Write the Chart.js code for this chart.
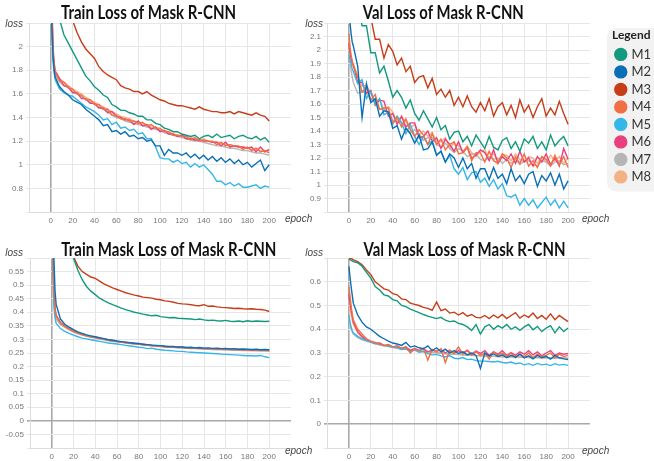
<!DOCTYPE html>
<html><head><meta charset="utf-8">
<script src="https://cdn.jsdelivr.net/npm/chart.js@4/dist/chart.umd.min.js"></script>
<style>
html,body{margin:0;padding:0;background:#fff;width:654px;height:461px;overflow:hidden;position:relative}
.p{position:absolute}
</style></head><body>
<div class="p" style="left:0;top:0;width:330px;height:230px"><canvas id="cTL"></canvas></div>
<div class="p" style="left:300px;top:0;width:380px;height:230px"><canvas id="cTR"></canvas></div>
<div class="p" style="left:0;top:230px;width:330px;height:231px"><canvas id="cBL"></canvas></div>
<div class="p" style="left:300px;top:230px;width:354px;height:231px"><canvas id="cBR"></canvas></div>
<script>
// ---------- data ----------
const epochs = [0,1,2,3, 4,8,12,16,20,24,28,32,36,40, 44,48,52,56,60,64,68,72,76,80, 84,88,92,96,100,104,108,112,116,120, 124,128,132,136,140,144,148,152,156,160, 164,168,172,176,180,184,188,192,196,200];
const seriesNames = ['M1','M2','M3','M4','M5','M6','M7','M8'];
const seriesColors = ['#12997e','#0a6fb5','#c63d18','#f26f43','#35b6e9','#e8407c','#b5b5b5','#f3b286'];

// Train Loss of Mask R-CNN
const trainLossM1 = [4.2,3.8,3.4,3.1, 2.85,2.23,2.10,2.03,1.96,1.89,1.82,1.75,1.71,1.66, 1.63,1.59,1.57,1.51,1.49,1.46,1.46,1.44,1.43,1.41, 1.41,1.38,1.38,1.35,1.34,1.31,1.30,1.28,1.28,1.26, 1.25,1.24,1.25,1.22,1.24,1.25,1.23,1.26,1.23,1.24, 1.25,1.22,1.24,1.25,1.23,1.22,1.24,1.21,1.23,1.19];
const trainLossM2 = [2.6,2.15,1.92,1.80, 1.74,1.66,1.62,1.59,1.55,1.53,1.51,1.47,1.44,1.41, 1.38,1.33,1.34,1.28,1.29,1.26,1.28,1.24,1.25,1.22, 1.23,1.20,1.21,1.16,1.16,1.08,1.13,1.10,1.10,1.08, 1.10,1.06,1.09,1.05,1.08,1.04,1.07,1.03,1.06,1.02, 1.05,1.01,1.04,1.00,1.02,0.98,1.01,1.04,0.95,1.00];
const trainLossM3 = [5.0,4.6,4.2,3.9, 3.6,3.0,2.65,2.38,2.22,2.12,2.04,1.98,1.94,1.90, 1.83,1.79,1.76,1.74,1.72,1.67,1.65,1.64,1.62,1.62, 1.60,1.62,1.59,1.57,1.55,1.54,1.52,1.51,1.50,1.50, 1.49,1.48,1.47,1.49,1.47,1.46,1.45,1.45,1.44,1.44, 1.45,1.43,1.45,1.44,1.43,1.42,1.44,1.42,1.41,1.37];
const trainLossM4 = [2.9,2.3,1.96,1.84, 1.78,1.71,1.70,1.65,1.64,1.60,1.59,1.55,1.55,1.51, 1.51,1.47,1.47,1.42,1.42,1.39,1.39,1.37,1.37,1.35, 1.36,1.33,1.34,1.31,1.31,1.28,1.28,1.25,1.25,1.24, 1.24,1.21,1.23,1.20,1.21,1.20,1.20,1.17,1.19,1.16, 1.17,1.16,1.16,1.13,1.15,1.12,1.14,1.11,1.12,1.10];
const trainLossM5 = [2.5,2.10,1.88,1.78, 1.72,1.64,1.61,1.59,1.58,1.55,1.52,1.49,1.47,1.45, 1.42,1.38,1.39,1.34,1.36,1.31,1.32,1.29,1.30,1.26, 1.27,1.22,1.22,1.15,1.06,1.05,1.05,1.02,1.04,1.01, 1.02,0.98,1.01,0.98,1.00,0.96,0.92,0.86,0.86,0.83, 0.85,0.82,0.84,0.81,0.81,0.82,0.83,0.80,0.82,0.81];
const trainLossM6 = [3.0,2.35,1.98,1.86, 1.79,1.73,1.67,1.66,1.61,1.61,1.56,1.56,1.52,1.52, 1.48,1.48,1.44,1.45,1.41,1.40,1.38,1.38,1.34,1.37, 1.33,1.34,1.30,1.32,1.28,1.29,1.26,1.26,1.24,1.25, 1.22,1.22,1.21,1.21,1.20,1.20,1.19,1.19,1.16,1.19, 1.15,1.16,1.15,1.15,1.14,1.15,1.11,1.15,1.11,1.13];
const trainLossM7 = [2.8,2.25,1.93,1.82, 1.76,1.70,1.67,1.65,1.62,1.60,1.58,1.55,1.53,1.51, 1.49,1.47,1.45,1.42,1.40,1.39,1.37,1.36,1.35,1.34, 1.33,1.32,1.31,1.30,1.29,1.27,1.26,1.25,1.24,1.23, 1.22,1.21,1.20,1.20,1.19,1.18,1.17,1.16,1.16,1.15, 1.14,1.14,1.13,1.12,1.12,1.11,1.10,1.10,1.09,1.08];
const trainLossM8 = [3.1,2.4,2.0,1.87, 1.80,1.73,1.70,1.67,1.64,1.62,1.60,1.57,1.55,1.53, 1.51,1.49,1.47,1.45,1.43,1.41,1.40,1.39,1.37,1.36, 1.35,1.34,1.32,1.31,1.30,1.29,1.28,1.26,1.25,1.25, 1.24,1.23,1.22,1.21,1.22,1.20,1.19,1.19,1.18,1.17, 1.17,1.16,1.15,1.15,1.14,1.13,1.13,1.12,1.11,1.12];

// Val Loss of Mask R-CNN
const valLossM1 = [3.0,2.9,2.8,2.7, 2.60,2.35,2.18,2.18,1.98,1.98,1.83,1.88,1.77,1.65, 1.70,1.65,1.57,1.63,1.53,1.48,1.55,1.49,1.43,1.50, 1.41,1.44,1.34,1.39,1.40,1.32,1.36,1.29,1.37,1.32, 1.27,1.36,1.28,1.26,1.33,1.35,1.27,1.32,1.25,1.34, 1.31,1.36,1.27,1.32,1.26,1.37,1.29,1.33,1.36,1.29];
const valLossM2 = [2.30,2.20,2.12,2.06, 2.03,1.88,1.50,1.75,1.61,1.64,1.51,1.55,1.54,1.42, 1.44,1.34,1.42,1.38,1.31,1.37,1.26,1.27,1.32,1.22, 1.25,1.17,1.23,1.20,1.13,1.20,1.12,1.16,1.05,1.12, 1.12,1.04,1.13,1.05,1.08,1.01,1.12,1.03,1.07,1.01, 1.08,1.10,0.99,1.07,1.03,1.09,1.00,1.08,0.97,1.03];
const valLossM3 = [3.5,3.4,3.3,3.2, 3.1,2.7,2.45,2.30,2.24,2.08,2.08,1.94,2.04,1.99, 1.89,1.94,1.84,1.88,1.76,1.80,1.81,1.72,1.79,1.67, 1.71,1.65,1.70,1.59,1.65,1.58,1.66,1.58,1.54,1.61, 1.55,1.64,1.51,1.58,1.61,1.52,1.59,1.50,1.63,1.54, 1.59,1.50,1.58,1.64,1.51,1.57,1.52,1.62,1.53,1.45];
const valLossM4 = [2.12,2.02,1.96,1.92, 1.88,1.80,1.69,1.72,1.63,1.67,1.56,1.57,1.57,1.46, 1.50,1.43,1.49,1.41,1.36,1.41,1.37,1.30,1.38,1.30, 1.34,1.26,1.30,1.32,1.23,1.24,1.28,1.18,1.24,1.24, 1.17,1.25,1.18,1.16,1.23,1.20,1.13,1.21,1.16,1.23, 1.14,1.18,1.13,1.21,1.19,1.14,1.22,1.15,1.21,1.13];
const valLossM5 = [1.96,1.93,1.90,1.86, 1.84,1.75,1.78,1.64,1.69,1.60,1.64,1.52,1.54,1.45, 1.51,1.46,1.38,1.45,1.36,1.30,1.36,1.30,1.33,1.22, 1.25,1.17,1.22,1.12,1.08,1.13,1.04,1.09,1.10,1.02, 1.05,0.99,1.04,0.97,1.01,0.92,0.91,0.93,0.85,0.90, 0.85,0.89,0.83,0.87,0.91,0.85,0.89,0.83,0.88,0.83];
const valLossM6 = [2.05,1.98,1.93,1.90, 1.89,1.76,1.76,1.68,1.70,1.59,1.63,1.62,1.51,1.53, 1.45,1.51,1.43,1.46,1.46,1.35,1.36,1.40,1.32,1.35, 1.27,1.34,1.30,1.25,1.32,1.24,1.28,1.20,1.22,1.26, 1.24,1.18,1.26,1.16,1.21,1.18,1.23,1.16,1.25,1.17, 1.20,1.14,1.21,1.17,1.23,1.15,1.20,1.14,1.27,1.19];
const valLossM7 = [1.98,1.90,1.85,1.80, 1.76,1.68,1.69,1.68,1.63,1.63,1.56,1.56,1.54,1.48, 1.47,1.47,1.42,1.39,1.41,1.38,1.33,1.35,1.35,1.30, 1.28,1.31,1.27,1.24,1.27,1.25,1.21,1.23,1.23,1.19, 1.18,1.21,1.19,1.20,1.16,1.19,1.16,1.19,1.15,1.18, 1.18,1.15,1.14,1.18,1.17,1.14,1.17,1.18,1.15,1.16];
const valLossM8 = [2.08,2.00,1.95,1.91, 1.90,1.81,1.73,1.74,1.68,1.61,1.63,1.56,1.58,1.54, 1.47,1.50,1.47,1.42,1.45,1.37,1.40,1.36,1.39,1.32, 1.32,1.35,1.27,1.31,1.29,1.25,1.29,1.24,1.21,1.25, 1.26,1.20,1.23,1.18,1.23,1.22,1.18,1.23,1.19,1.17, 1.21,1.20,1.16,1.21,1.17,1.22,1.18,1.21,1.16,1.20];

// Train Mask Loss of Mask R-CNN
const trainMaskM1 = [1.1,1.0,0.95,0.9, 0.85,0.75,0.68,0.63,0.60,0.555,0.52,0.495,0.478,0.465, 0.452,0.443,0.435,0.428,0.422,0.415,0.41,0.405,0.40,0.397, 0.393,0.39,0.387,0.389,0.384,0.382,0.38,0.381,0.378,0.377, 0.376,0.375,0.373,0.375,0.372,0.37,0.371,0.369,0.368,0.37, 0.367,0.366,0.368,0.365,0.369,0.366,0.368,0.367,0.366,0.367];
const trainMaskM2 = [1.2,0.8,0.6,0.48, 0.43,0.375,0.356,0.345,0.336,0.328,0.322,0.317,0.313,0.31, 0.306,0.303,0.299,0.297,0.294,0.292,0.29,0.288,0.286,0.285, 0.282,0.281,0.279,0.278,0.277,0.275,0.274,0.274,0.272,0.272, 0.27,0.271,0.269,0.27,0.268,0.269,0.267,0.268,0.266,0.267, 0.265,0.266,0.264,0.265,0.264,0.263,0.264,0.262,0.263,0.262];
const trainMaskM3 = [1.2,1.1,1.0,0.95, 0.9,0.78,0.70,0.64,0.605,0.57,0.55,0.54,0.53,0.525, 0.515,0.505,0.497,0.49,0.484,0.478,0.472,0.468,0.463,0.46, 0.456,0.454,0.452,0.448,0.446,0.442,0.44,0.437,0.433,0.431, 0.43,0.428,0.425,0.424,0.428,0.422,0.423,0.42,0.418,0.417, 0.416,0.414,0.415,0.413,0.412,0.413,0.411,0.41,0.408,0.403];
const trainMaskM4 = [0.9,0.62,0.46,0.41, 0.385,0.36,0.348,0.338,0.33,0.323,0.318,0.313,0.31,0.307, 0.303,0.301,0.297,0.294,0.292,0.29,0.288,0.286,0.284,0.283, 0.28,0.279,0.277,0.276,0.275,0.273,0.272,0.272,0.27,0.27, 0.268,0.269,0.267,0.268,0.266,0.267,0.265,0.266,0.264,0.265, 0.263,0.264,0.262,0.263,0.262,0.261,0.262,0.26,0.261,0.259];
const trainMaskM5 = [0.8,0.55,0.42,0.38, 0.36,0.34,0.33,0.322,0.316,0.31,0.305,0.302,0.299,0.296, 0.293,0.29,0.287,0.285,0.283,0.281,0.278,0.276,0.274,0.271, 0.27,0.266,0.268,0.264,0.262,0.26,0.259,0.258,0.256,0.256, 0.254,0.253,0.252,0.251,0.25,0.249,0.248,0.247,0.246,0.245, 0.244,0.243,0.242,0.241,0.24,0.24,0.239,0.241,0.236,0.233];
const trainMaskM6 = [0.95,0.65,0.47,0.415, 0.39,0.362,0.35,0.34,0.331,0.325,0.319,0.315,0.311,0.308, 0.305,0.302,0.298,0.296,0.293,0.291,0.289,0.287,0.286,0.284, 0.282,0.28,0.279,0.277,0.276,0.275,0.273,0.273,0.271,0.271, 0.27,0.269,0.268,0.268,0.267,0.266,0.266,0.265,0.265,0.264, 0.264,0.263,0.263,0.262,0.262,0.261,0.261,0.26,0.26,0.26];
const trainMaskM7 = [0.85,0.6,0.45,0.4, 0.375,0.355,0.344,0.335,0.327,0.321,0.316,0.311,0.308,0.305, 0.301,0.299,0.296,0.293,0.291,0.289,0.287,0.285,0.283,0.282, 0.279,0.278,0.276,0.275,0.274,0.272,0.271,0.27,0.269,0.268, 0.267,0.266,0.266,0.265,0.264,0.264,0.263,0.262,0.262,0.261, 0.261,0.26,0.26,0.259,0.259,0.258,0.258,0.257,0.257,0.256];
const trainMaskM8 = [0.92,0.63,0.465,0.412, 0.388,0.361,0.349,0.339,0.332,0.324,0.32,0.314,0.312,0.308, 0.304,0.302,0.299,0.295,0.293,0.291,0.289,0.287,0.285,0.284, 0.281,0.28,0.278,0.277,0.276,0.274,0.273,0.272,0.271,0.27, 0.269,0.268,0.268,0.267,0.266,0.266,0.265,0.265,0.264,0.263, 0.263,0.262,0.262,0.261,0.261,0.26,0.26,0.26,0.259,0.258];

// Val Mask Loss of Mask R-CNN
const valMaskM1 = [0.695,0.693,0.69,0.688, 0.685,0.68,0.665,0.64,0.615,0.58,0.565,0.545,0.54,0.525, 0.52,0.50,0.495,0.485,0.477,0.47,0.462,0.455,0.45,0.445, 0.45,0.438,0.432,0.435,0.425,0.42,0.41,0.395,0.42,0.38, 0.41,0.42,0.40,0.415,0.405,0.42,0.40,0.41,0.395,0.41, 0.42,0.398,0.412,0.39,0.405,0.415,0.385,0.41,0.39,0.405];
const valMaskM2 = [0.665,0.62,0.58,0.545, 0.51,0.46,0.43,0.41,0.40,0.385,0.37,0.36,0.35,0.342, 0.338,0.332,0.345,0.325,0.33,0.322,0.318,0.33,0.31,0.322, 0.305,0.316,0.30,0.31,0.298,0.305,0.292,0.30,0.29,0.235, 0.30,0.288,0.296,0.285,0.292,0.28,0.29,0.282,0.295,0.279, 0.288,0.275,0.29,0.28,0.286,0.274,0.29,0.28,0.275,0.272];
const valMaskM3 = [0.70,0.698,0.70,0.695, 0.692,0.685,0.672,0.65,0.63,0.60,0.585,0.57,0.565,0.55, 0.545,0.528,0.525,0.51,0.505,0.50,0.492,0.488,0.48,0.515, 0.478,0.485,0.468,0.472,0.46,0.47,0.455,0.462,0.45,0.448, 0.458,0.445,0.46,0.448,0.462,0.445,0.458,0.47,0.447,0.46, 0.45,0.468,0.445,0.458,0.442,0.465,0.44,0.458,0.445,0.432];
const valMaskM4 = [0.58,0.54,0.50,0.465, 0.44,0.40,0.38,0.36,0.35,0.345,0.338,0.33,0.336,0.325, 0.33,0.32,0.325,0.30,0.318,0.31,0.32,0.27,0.315,0.305, 0.318,0.26,0.31,0.30,0.325,0.295,0.31,0.29,0.305,0.29, 0.30,0.275,0.305,0.29,0.30,0.285,0.30,0.28,0.295,0.285, 0.30,0.28,0.295,0.285,0.29,0.30,0.28,0.295,0.285,0.29];
const valMaskM5 = [0.46,0.43,0.41,0.395, 0.385,0.37,0.36,0.352,0.347,0.342,0.336,0.333,0.328,0.325, 0.322,0.315,0.318,0.306,0.314,0.303,0.306,0.298,0.292,0.294, 0.288,0.283,0.289,0.278,0.276,0.281,0.272,0.274,0.268,0.266, 0.266,0.264,0.262,0.265,0.26,0.258,0.262,0.255,0.258,0.25, 0.255,0.248,0.256,0.25,0.253,0.247,0.255,0.249,0.252,0.248];
const valMaskM6 = [0.55,0.51,0.48,0.455, 0.43,0.39,0.37,0.355,0.348,0.34,0.342,0.332,0.335,0.326, 0.33,0.318,0.326,0.31,0.32,0.31,0.318,0.305,0.312,0.308, 0.315,0.30,0.312,0.298,0.31,0.30,0.312,0.295,0.308,0.298, 0.31,0.29,0.305,0.295,0.31,0.29,0.302,0.29,0.305,0.295, 0.31,0.292,0.305,0.288,0.30,0.31,0.29,0.30,0.295,0.298];
const valMaskM7 = [0.45,0.42,0.40,0.39, 0.38,0.365,0.355,0.35,0.345,0.34,0.336,0.332,0.33,0.326, 0.324,0.32,0.318,0.315,0.313,0.31,0.308,0.306,0.304,0.302, 0.30,0.298,0.297,0.295,0.294,0.292,0.291,0.29,0.289,0.288, 0.287,0.286,0.286,0.285,0.284,0.284,0.283,0.283,0.282,0.282, 0.281,0.281,0.28,0.28,0.28,0.279,0.279,0.279,0.278,0.278];
const valMaskM8 = [0.52,0.49,0.46,0.44, 0.42,0.385,0.365,0.352,0.345,0.338,0.334,0.33,0.327,0.323, 0.32,0.318,0.315,0.312,0.31,0.308,0.306,0.304,0.302,0.30, 0.298,0.297,0.296,0.294,0.293,0.292,0.291,0.29,0.289,0.288, 0.288,0.287,0.286,0.285,0.285,0.284,0.284,0.283,0.283,0.282, 0.282,0.281,0.281,0.28,0.28,0.28,0.279,0.279,0.279,0.278];

// axes (value ranges and tick steps)
const xRange = [-20, 220], xStep = 20, xLabelRange = [0, 200];
const trainLossY = [0.6, 2.2, 0.2];
const valLossY = [0.8, 2.2, 0.1];
const trainMaskY = [-0.1, 0.6, 0.05];
const valMaskY = [-0.1, 0.7, 0.1];

// ---------- rendering ----------
const annot = {
  id: 'annot',
  afterDraw(chart, args, o) {
    const c = chart.ctx;
    c.save();
    c.fillStyle = '#111';
    c.font = 'bold 18px Lato';
    c.textBaseline = 'alphabetic';
    const w = c.measureText(o.title).width;
    const s = Math.max(0.75, Math.min(1.3, o.tw / w));
    c.translate(o.tx, o.ty);
    c.scale(s, 1);
    c.textAlign = 'center';
    c.fillText(o.title, 0, 0);
    c.restore();
    c.save();
    c.fillStyle = '#444';
    c.font = 'italic 10px "Liberation Sans"';
    c.textAlign = 'right';
    c.fillText('loss', o.lx, o.ly);
    c.textAlign = 'left';
    c.fillText('epoch', o.ex, o.ey);
    c.restore();
  }
};
const legendBg = {
  id: 'legendBg',
  beforeDraw(chart) {
    const L = chart.legend;
    if (!L || !L.options.display) return;
    const hb = L.legendHitBoxes;
    const last = hb[hb.length - 1];
    const c = chart.ctx;
    const x = L.left - 5, y = L.top + 5;
    const b = last.top + last.height + 8;
    c.save();
    c.fillStyle = '#f2f2f2';
    c.beginPath();
    c.roundRect(x, y, chart.width - x + 20, b - y, 9);
    c.fill();
    c.restore();
  }
};

function makeDatasets(arrs) {
  return arrs.map((vals, i) => ({
    label: seriesNames[i],
    data: epochs.map((e, k) => ({x: e, y: vals[k]})),
    borderColor: seriesColors[i],
    backgroundColor: seriesColors[i],
    borderWidth: 1.4,
    pointRadius: 0,
    tension: 0
  }));
}

function fmt(v) { return String(Math.round(v * 1000) / 1000); }

function makeChart(id, arrs, yr, geo, withLegend) {
  const [ymin, ymax, ystep] = yr;
  const opts = {
    responsive: true,
    maintainAspectRatio: false,
    animation: false,
    events: [],
    layout: {padding: {top: geo.padT, right: geo.padR, bottom: 0, left: 0}},
    plugins: {
      legend: withLegend ? {
        display: true, position: 'right', align: 'start',
        title: {display: true, text: 'Legend', position: 'start', color: '#222', font: {family: 'Lato', size: 12, weight: 'bold'}, padding: {top: 6, bottom: 0}},
        labels: {usePointStyle: true, pointStyle: 'circle', boxWidth: 8.5, boxHeight: 8.5, padding: 4.5, color: '#333', font: {family: 'Lato', size: 13}}
      } : {display: false},
      tooltip: {enabled: false},
      annot: geo.annot
    },
    scales: {
      x: {
        type: 'linear', min: xRange[0], max: xRange[1],
        ticks: {stepSize: xStep, autoSkip: false, maxRotation: 0, padding: 4, color: '#777',
          font: {family: 'Liberation Sans', size: 8},
          callback: v => (v < xLabelRange[0] || v > xLabelRange[1]) ? '' : fmt(v)},
        grid: {drawTicks: false,
          color: c => c.tick.value === 0 ? '#a8a8a8' : (c.tick.value === xRange[1] ? 'rgba(0,0,0,0)' : '#e6e6e6'),
          lineWidth: c => c.tick.value === 0 ? 1.6 : 1},
        border: {color: '#dcdcdc'},
        afterFit: s => { s.height = geo.xH; }
      },
      y: {
        min: ymin, max: ymax,
        ticks: {stepSize: ystep, autoSkip: false, padding: 3, color: '#777',
          font: {family: 'Liberation Sans', size: 8},
          callback: v => (Math.abs(v - ymin) < 1e-6 || Math.abs(v - ymax) < 1e-6) ? '' : fmt(v)},
        grid: {tickLength: 3,
          color: c => Math.abs(c.tick.value) < 1e-9 ? '#a8a8a8' : '#e6e6e6',
          lineWidth: c => Math.abs(c.tick.value) < 1e-9 ? 1.6 : 1},
        border: {color: '#dcdcdc'},
        afterFit: s => { s.width = geo.yW; }
      }
    }
  };
  if (withLegend) {
    opts.scales.y2 = {
      position: 'right', display: true, min: 0, max: 1,
      grid: {display: false, drawOnChartArea: false}, ticks: {display: false}, border: {display: false},
      afterFit: s => { s.width = geo.gap; }
    };
  }
  const ch = new Chart(document.getElementById(id), {
    type: 'line',
    data: {datasets: makeDatasets(arrs)},
    options: opts,
    plugins: withLegend ? [annot, legendBg] : [annot]
  });
  if (withLegend) {
    const dx = ch.legend.left - geo.legendLeft;
    if (Math.abs(dx) > 0.3) {
      ch.config.options.layout.padding.right += dx;
      ch.update('none');
    }
  }
  return ch;
}

makeChart('cTL',
  [trainLossM1, trainLossM2, trainLossM3, trainLossM4, trainLossM5, trainLossM6, trainLossM7, trainLossM8],
  trainLossY,
  {padT: 23, padR: 39, xH: 18, yW: 29,
   annot: {title: 'Train Loss of Mask R-CNN', tx: 148.5, ty: 19, tw: 175, lx: 23, ly: 27, ex: 285, ey: 222}},
  false);

makeChart('cTR',
  [valLossM1, valLossM2, valLossM3, valLossM4, valLossM5, valLossM6, valLossM7, valLossM8],
  valLossY,
  {padT: 23, padR: 20, xH: 18, yW: 27, gap: 22, legendLeft: 312,
   annot: {title: 'Val Loss of Mask R-CNN', tx: 143.3, ty: 19, tw: 161, lx: 23, ly: 27, ex: 282, ey: 222}},
  true);

makeChart('cBL',
  [trainMaskM1, trainMaskM2, trainMaskM3, trainMaskM4, trainMaskM5, trainMaskM6, trainMaskM7, trainMaskM8],
  trainMaskY,
  {padT: 28, padR: 39, xH: 13, yW: 30,
   annot: {title: 'Train Mask Loss of Mask R-CNN', tx: 168.8, ty: 26, tw: 215, lx: 23, ly: 26, ex: 285, ey: 224}},
  false);

makeChart('cBR',
  [valMaskM1, valMaskM2, valMaskM3, valMaskM4, valMaskM5, valMaskM6, valMaskM7, valMaskM8],
  valMaskY,
  {padT: 28, padR: 64, xH: 13, yW: 27,
   annot: {title: 'Val Mask Loss of Mask R-CNN', tx: 164.5, ty: 26, tw: 202, lx: 23, ly: 26, ex: 282, ey: 224}},
  false);
</script>
</body></html>
